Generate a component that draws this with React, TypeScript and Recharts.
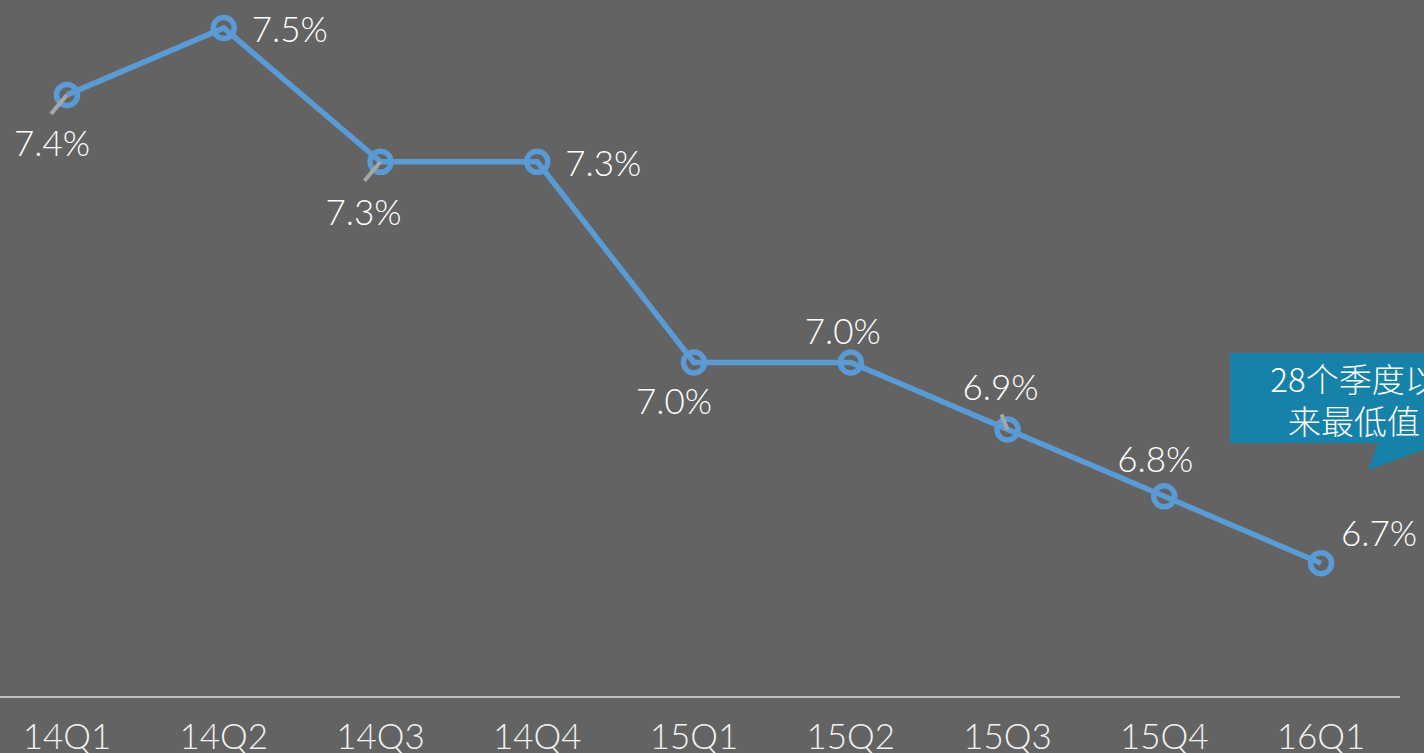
import { LabelList, Line, LineChart, XAxis, YAxis } from "recharts";

const quarters = ["14Q1", "14Q2", "14Q3", "14Q4", "15Q1", "15Q2", "15Q3", "15Q4", "16Q1"];
const growth = [7.4, 7.5, 7.3, 7.3, 7.0, 7.0, 6.9, 6.8, 6.7];
const calloutLines = ["28个季度以", "来最低值"];

const data = quarters.map((quarter, i) => ({ quarter, growth: growth[i] }));

// label placement per point: [dx, dy, leader]
const labelPlacement: [number, number, boolean][] = [
  [-15, 47, true],
  [66, 0, false],
  [-17, 49, true],
  [66, 0, false],
  [-20, 37, false],
  [-8, -33, false],
  [-7, -43, true],
  [-9, -38, false],
  [58, -31, false],
];

const FONT = "Lato, 'Noto Sans', sans-serif";

function PointLabel(props: any) {
  const { x, y, index, value } = props;
  const [dx, dy, leader] = labelPlacement[index];
  return (
    <g>
      {leader ? (
        <line
          x1={x}
          y1={y}
          x2={dy < 0 ? x - 6 : x - 16}
          y2={dy < 0 ? y - 15 : y + 19}
          stroke="#A6A6A6"
          strokeWidth={4}
        />
      ) : null}
      <text
        x={x + dx}
        y={y + dy}
        fill="#FFFFFF"
        fontSize={35}
        fontFamily={FONT}
        fontWeight={300}
        textAnchor="middle"
        dominantBaseline="central"
      >
        {`${Number(value).toFixed(1)}%`}
      </text>
    </g>
  );
}

function Callout() {
  return (
    <g>
      <path d="M1241 353 H1470 V443 H1454 L1379 470 L1389 443 H1241 Z" fill="#1681A9" />
      {calloutLines.map((line, i) => (
        <text
          key={line}
          x={1365}
          y={378 + i * 42}
          fill="#FFFFFF"
          fontSize={33}
          fontFamily="'Noto Sans CJK SC', sans-serif"
          fontWeight={300}
          textAnchor="middle"
          dominantBaseline="central"
        >
          {line}
        </text>
      ))}
    </g>
  );
}

export default function App() {
  return (
    <div
      style={{
        position: "fixed",
        left: 0,
        top: 0,
        width: 1424,
        height: 753,
        background: "#636363",
        overflow: "hidden",
      }}
    >
      <div style={{ position: "absolute", left: -11, top: 0 }}>
        <LineChart
          width={1435}
          height={753}
          data={data}
          margin={{ top: 28, right: 24, left: 0, bottom: 0 }}
        >
          <XAxis
            dataKey="quarter"
            height={56}
            padding={{ left: 78, right: 79 }}
            axisLine={{ stroke: "#BFBFBF", strokeWidth: 2 }}
            tickLine={false}
            tickMargin={21}
            tick={{ fill: "#F2F2F2", fontSize: 35, fontFamily: FONT, fontWeight: 300 }}
            interval={0}
          />
          <YAxis hide domain={[6.5, 7.5]} width={0} />
          <Line
            dataKey="growth"
            stroke="#5B9BD5"
            strokeWidth={5.5}
            dot={{ r: 10.5, stroke: "#5B9BD5", strokeWidth: 5.5, fill: "none" }}
            activeDot={false}
            isAnimationActive={false}
          >
            <LabelList dataKey="growth" content={PointLabel} />
          </Line>
          <Callout />
        </LineChart>
      </div>
    </div>
  );
}
